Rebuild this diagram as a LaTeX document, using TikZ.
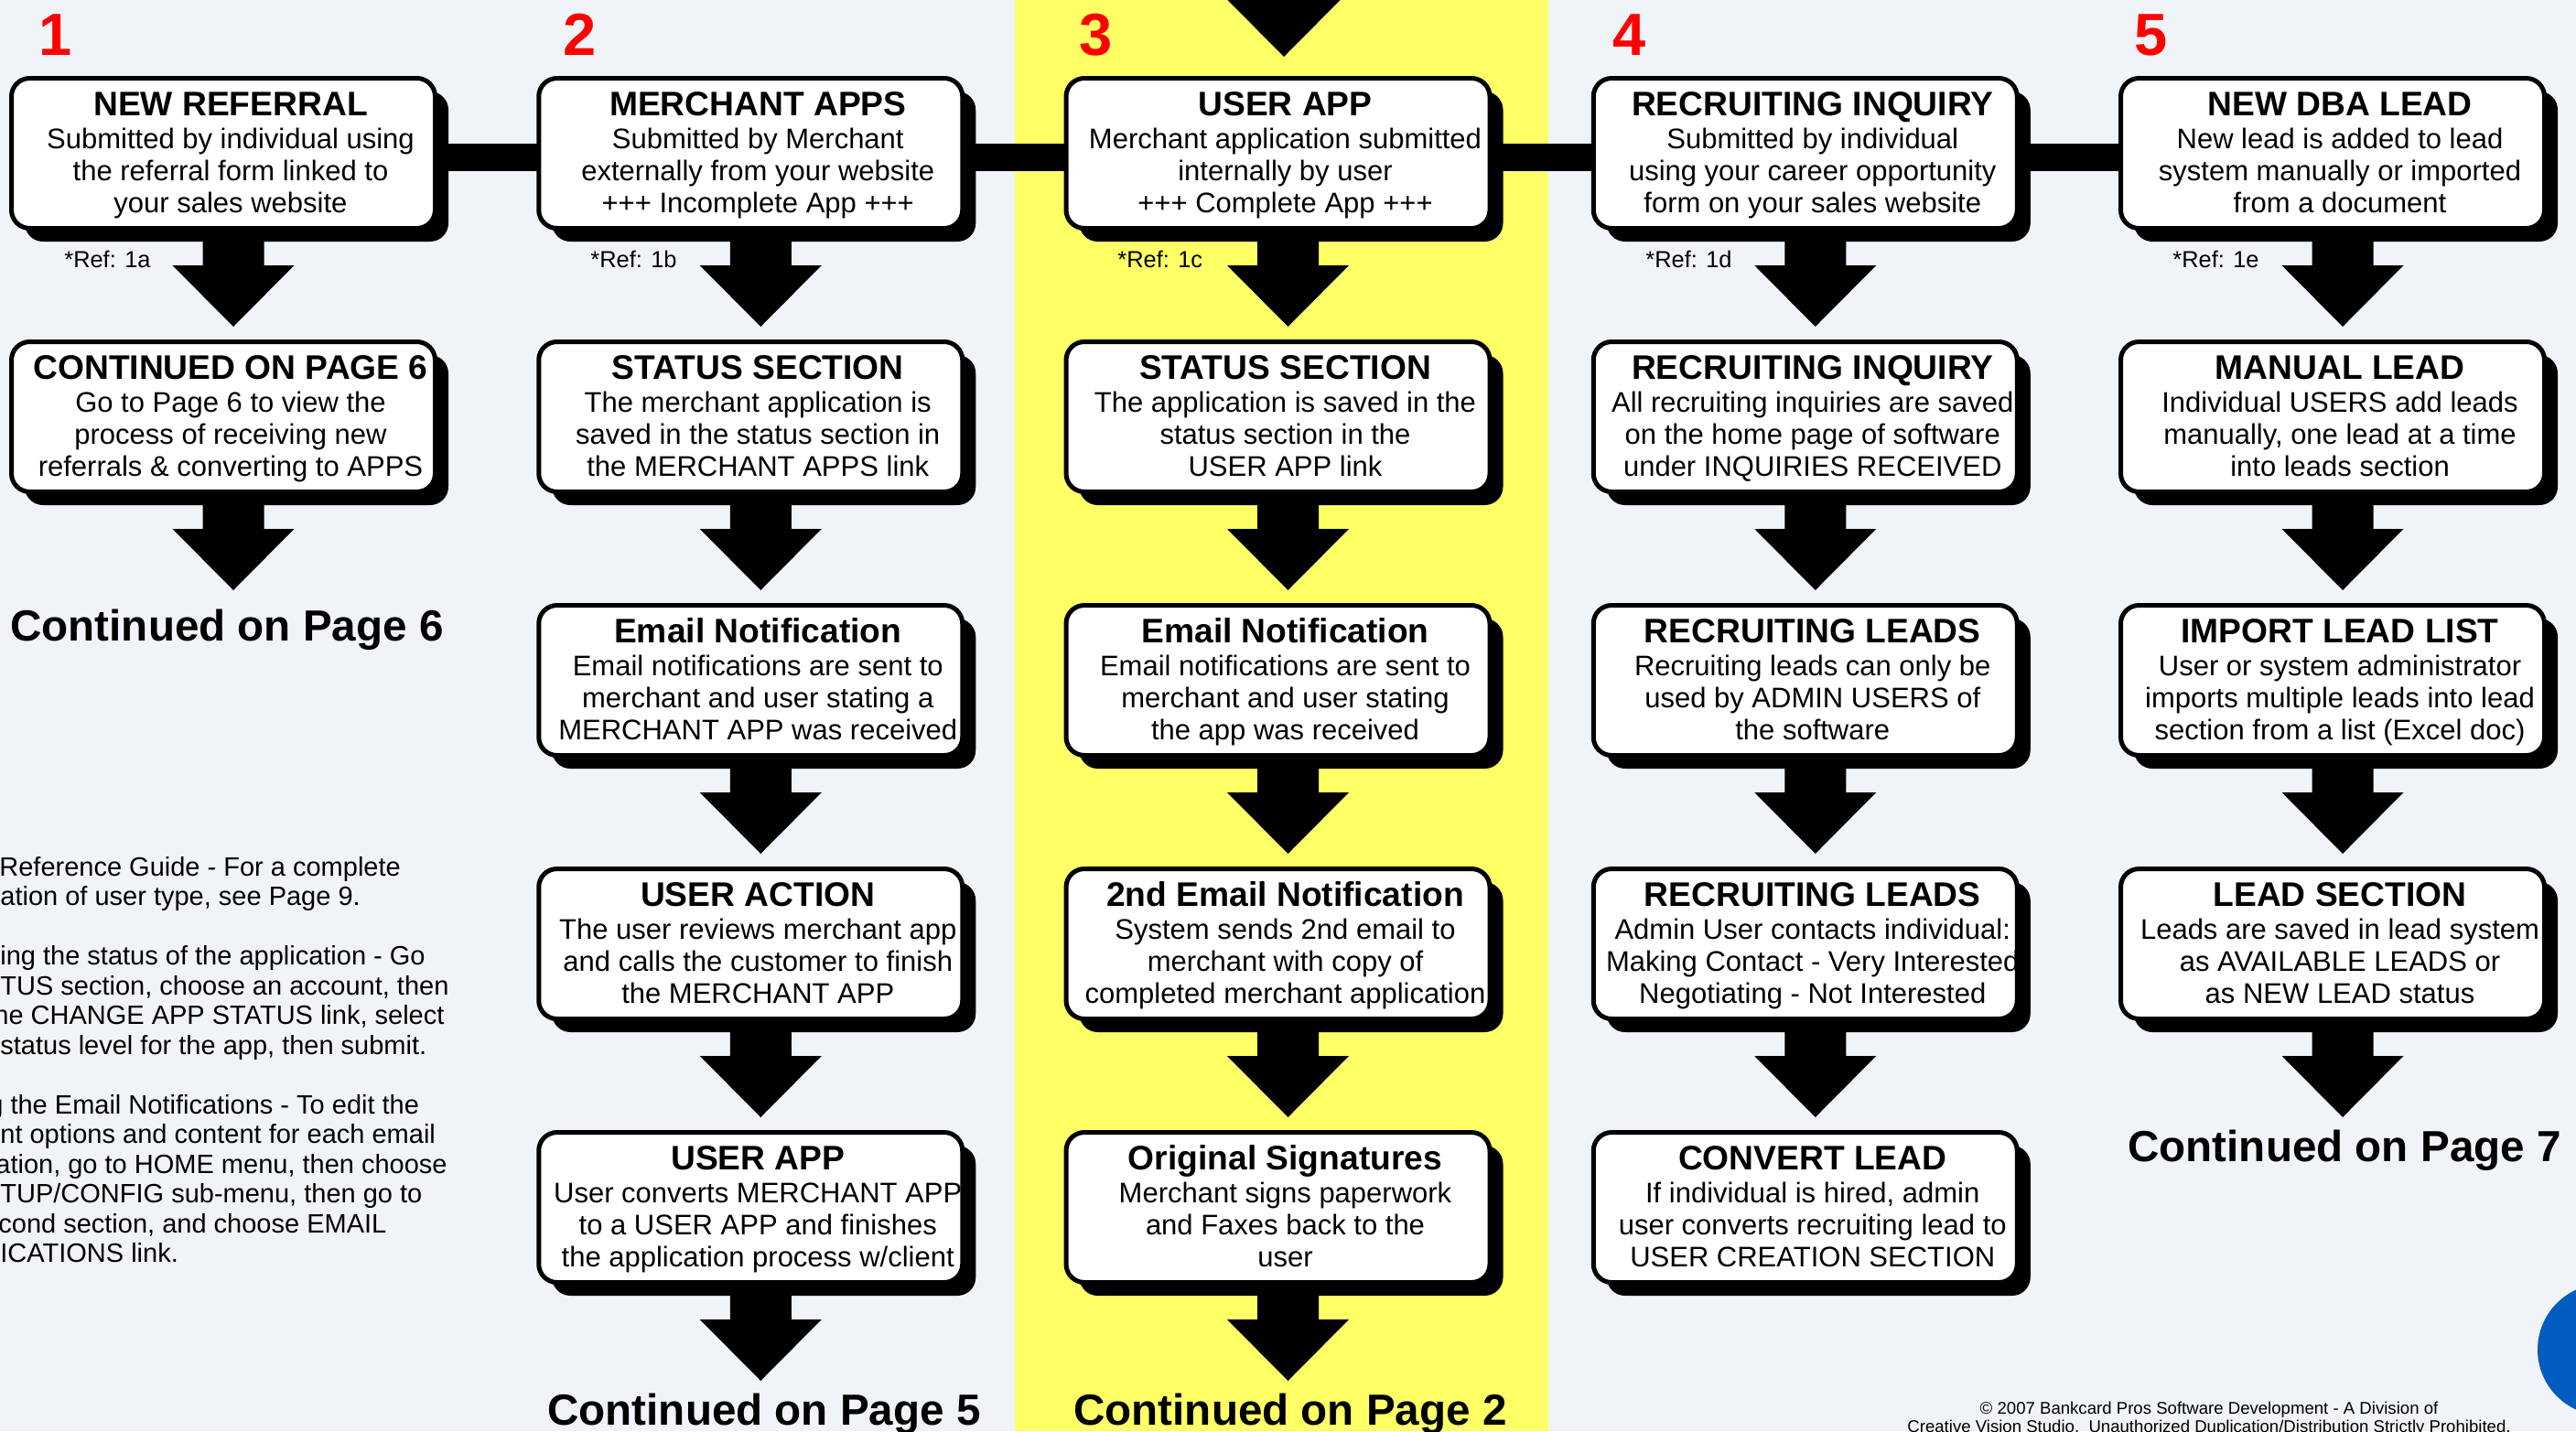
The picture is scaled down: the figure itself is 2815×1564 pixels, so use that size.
\documentclass[tikz,border=0pt]{standalone}
\usepackage{fontspec}
\setmainfont{Liberation Sans}
\usetikzlibrary{calc,shadows,backgrounds}

\definecolor{pagebg}{HTML}{F0F4F8}
\definecolor{band}{HTML}{FFFF66}
\definecolor{dotblue}{HTML}{005CBF}

% one line of a card, centred a little right of the middle, with no height so that the kerns fix the baselines
\newcommand\cardline[1]{\hbox to 231.5pt{\hskip8pt\hss\smash{#1}\hss}}
% card body: bold title and three text lines
\newcommand\cardtext[4]{\vbox to 82pt{\offinterlineskip
  \kern20.25pt\cardline{\fontsize{18.6pt}{20pt}\selectfont\bfseries #1}%
  \kern18pt\cardline{#2}%
  \kern17.5pt\cardline{#3}%
  \kern17.5pt\cardline{#4}%
  \vfil}}

% broad block arrow: shaft from #1 down to a head whose tip lies at the height of #2
\newcommand\blockarrow[2]{%
  \fill[black] let \p1=(#1), \p2=(#2) in
    (\x1-11.25pt,\y1+5pt) -- (\x1-11.25pt,\y2+33.5pt) -- (\x1-27.75pt,\y2+33.5pt)
    -- (\x1+5.5pt,\y2) -- (\x1+38.75pt,\y2+33.5pt) -- (\x1+22.25pt,\y2+33.5pt)
    -- (\x1+22.25pt,\y1+5pt) -- cycle;}

\tikzset{
  card/.style={draw=black, line width=2.5pt, fill=white, rounded corners=10pt,
    inner sep=0pt, outer sep=0pt, font=\fontsize{15.5pt}{17.5pt}\selectfont,
    drop shadow={shadow xshift=7.25pt, shadow yshift=-7.25pt, opacity=1, fill=black}},
  colnum/.style={anchor=base, inner sep=0pt, text=red,
    font=\fontsize{32.5pt}{36pt}\selectfont\bfseries},
  reflabel/.style={anchor=base west, inner sep=0pt,
    font=\fontsize{12.7pt}{14pt}\selectfont},
  contlabel/.style={anchor=base, inner sep=0pt,
    font=\fontsize{23.8pt}{26pt}\selectfont\bfseries},
  noteline/.style={anchor=base west, inner sep=0pt,
    font=\fontsize{14.5pt}{16.25pt}\selectfont},
  footline/.style={anchor=base, inner sep=0pt,
    font=\fontsize{9.3pt}{10pt}\selectfont},
  linkbar/.style={line width=15pt, black}
}

\begin{document}
\begin{tikzpicture}[x=0.5pt, y=-0.5pt]
\useasboundingbox (0,0) rectangle (2815,1564);

% ---- column 1 ----
\node[card] (b11) at (244,167.5) {\cardtext{NEW REFERRAL}{Submitted by individual using}{the referral form linked to}{your sales website}};
\node[card] (b12) at (244,455.5) {\cardtext{CONTINUED ON PAGE 6}{Go to Page 6 to view the}{process of receiving new}{referrals \& converting to APPS}};

% ---- column 2 ----
\node[card] (b21) at (820.25,167.5) {\cardtext{MERCHANT APPS}{Submitted by Merchant}{externally from your website}{+++ Incomplete App +++}};
\node[card] (b22) at (820.25,455.5) {\cardtext{STATUS SECTION}{The merchant application is}{saved in the status section in}{the MERCHANT APPS link}};
\node[card] (b23) at (820.25,743.5) {\cardtext{Email Notification}{Email notifications are sent to}{merchant and user stating a}{MERCHANT APP was received}};
\node[card] (b24) at (820.25,1031.5) {\cardtext{USER ACTION}{The user reviews merchant app}{and calls the customer to finish}{the MERCHANT APP}};
\node[card] (b25) at (820.25,1319.5) {\cardtext{USER APP}{User converts MERCHANT APP}{to a USER APP and finishes}{the application process w/client}};

% ---- column 3 ----
\node[card] (b31) at (1396.5,167.5) {\cardtext{USER APP}{Merchant application submitted}{internally by user}{+++ Complete App +++}};
\node[card] (b32) at (1396.5,455.5) {\cardtext{STATUS SECTION}{The application is saved in the}{status section in the}{USER APP link}};
\node[card] (b33) at (1396.5,743.5) {\cardtext{Email Notification}{Email notifications are sent to}{merchant and user stating}{the app was received}};
\node[card] (b34) at (1396.5,1031.5) {\cardtext{2nd Email Notification}{System sends 2nd email to}{merchant with copy of}{completed merchant application}};
\node[card] (b35) at (1396.5,1319.5) {\cardtext{Original Signatures}{Merchant signs paperwork}{and Faxes back to the}{user}};

% ---- column 4 ----
\node[card] (b41) at (1972.75,167.5) {\cardtext{RECRUITING INQUIRY}{Submitted by individual}{using your career opportunity}{form on your sales website}};
\node[card] (b42) at (1972.75,455.5) {\cardtext{RECRUITING INQUIRY}{All recruiting inquiries are saved}{on the home page of software}{under INQUIRIES RECEIVED}};
\node[card] (b43) at (1972.75,743.5) {\cardtext{RECRUITING LEADS}{Recruiting leads can only be}{used by ADMIN USERS of}{the software}};
\node[card] (b44) at (1972.75,1031.5) {\cardtext{RECRUITING LEADS}{Admin User contacts individual:}{Making Contact - Very Interested}{Negotiating - Not Interested}};
\node[card] (b45) at (1972.75,1319.5) {\cardtext{CONVERT LEAD}{If individual is hired, admin}{user converts recruiting lead to}{USER CREATION SECTION}};

% ---- column 5 ----
\node[card] (b51) at (2549,167.5) {\cardtext{NEW DBA LEAD}{New lead is added to lead}{system manually or imported}{from a document}};
\node[card] (b52) at (2549,455.5) {\cardtext{MANUAL LEAD}{Individual USERS add leads}{manually, one lead at a time}{into leads section}};
\node[card] (b53) at (2549,743.5) {\cardtext{IMPORT LEAD LIST}{User or system administrator}{imports multiple leads into lead}{section from a list (Excel doc)}};
\node[card] (b54) at (2549,1031.5) {\cardtext{LEAD SECTION}{Leads are saved in lead system}{as AVAILABLE LEADS or}{as NEW LEAD status}};

% ---- column numbers ----
\node[colnum] (n1) at (61,60) {1};
\node[colnum] (n2) at (634,60) {2};
\node[colnum] (n3) at (1198,60) {3};
\node[colnum] (n4) at (1781,60) {4};
\node[colnum] (n5) at (2351,60) {5};

% ---- reference tags ----
\node[reflabel] (r1) at (70,292) {*Ref: 1a};
\node[reflabel] (r2) at (645,292) {*Ref: 1b};
\node[reflabel] (r3) at (1221,292) {*Ref: 1c};
\node[reflabel] (r4) at (1798,292) {*Ref: 1d};
\node[reflabel] (r5) at (2374,292) {*Ref: 1e};

% ---- continuation labels ----
\node[contlabel] (c1) at (248,700) {Continued on Page 6};
\node[contlabel] (c2) at (835,1557) {Continued on Page 5};
\node[contlabel] (c3) at (1410,1557) {Continued on Page 2};
\node[contlabel] (c5) at (2562,1269) {Continued on Page 7};

% ---- side notes ----
\node[noteline] (m1) at (-1,957) {Reference Guide - For a complete};
\node[noteline] (m2) at (0,989.5) {ation of user type, see Page 9.};
\node[noteline] (m3) at (0,1054.5) {ing the status of the application - Go};
\node[noteline] (m4) at (0,1087) {TUS section, choose an account, then};
\node[noteline] (m5) at (-7,1119.5) {he CHANGE APP STATUS link, select};
\node[noteline] (m6) at (0,1152) {status level for the app, then submit.};
\node[noteline] (m7) at (-13,1217) {g the Email Notifications - To edit the};
\node[noteline] (m8) at (0,1249.5) {nt options and content for each email};
\node[noteline] (m9) at (-5,1282) {ation, go to HOME menu, then choose};
\node[noteline] (m10) at (0,1314.5) {TUP/CONFIG sub-menu, then go to};
\node[noteline] (m11) at (-2,1347) {cond section, and choose EMAIL};
\node[noteline] (m12) at (0,1379.5) {ICATIONS link.};

% ---- footer ----
\node[footline] (f1) at (2414,1545) {© 2007 Bankcard Pros Software Development - A Division of};
\node[footline] (f2) at (2414,1565) {Creative Vision Studio.\ \ Unauthorized Duplication/Distribution Strictly Prohibited.};

% ---- corner badge ----
\fill[dotblue] (2845,1475) circle[radius=36pt];

\coordinate (top3) at (1392,-100);

\begin{pgfonlayer}{background}
  \fill[pagebg] (0,0) rectangle (2815,1564);
  \fill[band] (1109,0) rectangle (1692,1564);
  % link bar through the first row
  \draw[linkbar] ([yshift=-2.25pt]b11.center) -- ([yshift=-2.25pt]b51.center);
  % column 1
  \blockarrow{b11.south}{$(b12.north)+(0,-16.5)$}
  \blockarrow{b12.south}{$(c1.base)+(0,-55)$}
  % column 2
  \blockarrow{b21.south}{$(b22.north)+(0,-16.5)$}
  \blockarrow{b22.south}{$(b23.north)+(0,-16.5)$}
  \blockarrow{b23.south}{$(b24.north)+(0,-16.5)$}
  \blockarrow{b24.south}{$(b25.north)+(0,-16.5)$}
  \blockarrow{b25.south}{$(c2.base)+(0,-48)$}
  % column 3
  \blockarrow{top3}{$(b31.north)+(0,-23.5)$}
  \blockarrow{b31.south}{$(b32.north)+(0,-16.5)$}
  \blockarrow{b32.south}{$(b33.north)+(0,-16.5)$}
  \blockarrow{b33.south}{$(b34.north)+(0,-16.5)$}
  \blockarrow{b34.south}{$(b35.north)+(0,-16.5)$}
  \blockarrow{b35.south}{$(c3.base)+(0,-48)$}
  % column 4
  \blockarrow{b41.south}{$(b42.north)+(0,-16.5)$}
  \blockarrow{b42.south}{$(b43.north)+(0,-16.5)$}
  \blockarrow{b43.south}{$(b44.north)+(0,-16.5)$}
  \blockarrow{b44.south}{$(b45.north)+(0,-16.5)$}
  % column 5
  \blockarrow{b51.south}{$(b52.north)+(0,-16.5)$}
  \blockarrow{b52.south}{$(b53.north)+(0,-16.5)$}
  \blockarrow{b53.south}{$(b54.north)+(0,-16.5)$}
  \blockarrow{b54.south}{$(c5.base)+(0,-48)$}
\end{pgfonlayer}
\end{tikzpicture}
\end{document}
